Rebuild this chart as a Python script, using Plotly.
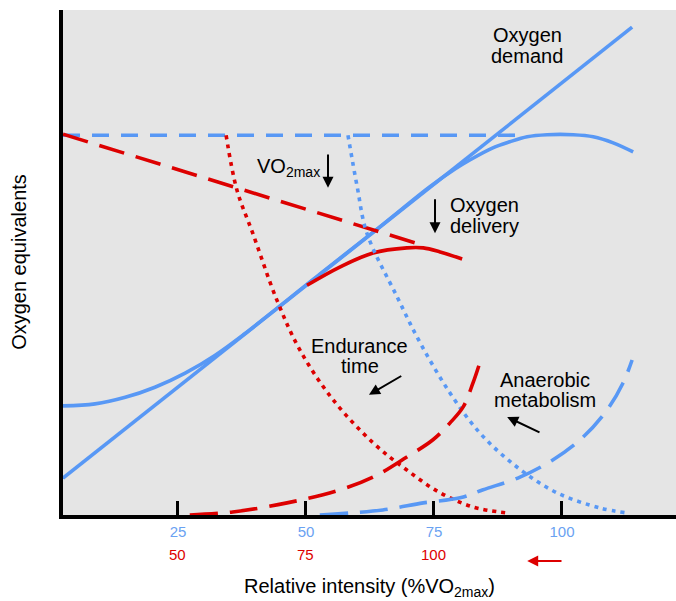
import plotly.graph_objects as go

# ---- data (x: relative intensity, %VO2max; y: oxygen equivalents, arbitrary units) ----
demand_x = [2.54, 113.7]
demand_y = [7.3, 96.6]

delivery_x = [2.54, 8.8, 14.7, 20.5, 26.4, 32.2, 37.9, 52.7, 64.5, 74.2, 79.1, 82.0, 86.5,
              89.8, 93.2, 97.1, 102.2, 106.1, 110.0, 113.9]
delivery_y = [21.6, 22.0, 23.3, 25.3, 28.1, 31.6, 35.8, 47.7, 57.1, 65.0, 68.5, 70.3, 72.7,
              73.9, 74.9, 75.3, 75.3, 74.9, 73.7, 71.9]

vo2max_x = [2.54, 93.0]
vo2max_y = [75.2, 75.2]

reduced_vo2max_x = [2.54, 73.2]
reduced_vo2max_y = [75.4, 53.3]

reduced_delivery_x = [50.2, 56.6, 63.1, 69.7, 72.9, 76.2, 80.5]
reduced_delivery_y = [45.5, 49.1, 51.9, 52.9, 52.9, 52.1, 50.7]

endurance_red_x = [34.4, 36.5, 39.6, 44.3, 48.8, 55.3, 63.1, 69.7, 76.2, 82.6, 89.3]
endurance_red_y = [75.2, 64.4, 55.8, 42.6, 32.7, 22.8, 14.3, 8.9, 4.4, 1.6, 0.4]

endurance_blue_x = [58.2, 60.0, 61.9, 67.8, 72.3, 78.1, 84.0, 91.2, 99.0, 107.4, 112.7]
endurance_blue_y = [75.2, 65.0, 55.8, 43.2, 34.1, 24.2, 16.2, 9.5, 4.4, 1.4, 0.4]

anaerobic_red_x = [27.3, 35.7, 46.3, 56.1, 63.1, 69.7, 74.8, 78.1, 80.7, 82.6, 84.0]
anaerobic_red_y = [0.0, 0.6, 2.4, 4.8, 7.5, 11.5, 14.9, 18.2, 21.4, 26.1, 30.3]

anaerobic_blue_x = [52.7, 65.0, 72.9, 80.1, 84.6, 91.8, 98.2, 104.1, 108.8, 111.9, 113.7]
anaerobic_blue_y = [0.0, 1.0, 2.4, 3.4, 5.0, 7.5, 10.9, 15.4, 20.8, 26.1, 30.7]

tick_values = [25, 50, 75, 100]
tick_labels_blue = ["25", "50", "75", "100"]
tick_labels_red = ["50", "75", "100"]

BLUE = "#5898f5"
BLUE_TXT = "#6aa2f2"
RED = "#dd0000"
FONT = "Liberation Sans, Arial, Helvetica, sans-serif"

fig = go.Figure()


def add_line(x, y, color, dash="solid", width=3.6, spline=True):
    fig.add_trace(go.Scatter(
        x=x, y=y, mode="lines", hoverinfo="skip", showlegend=False,
        line=dict(color=color, width=width, dash=dash,
                  shape="spline" if spline else "linear", smoothing=1.0),
    ))


add_line(demand_x, demand_y, BLUE, spline=False)
add_line(delivery_x, delivery_y, BLUE)
add_line(vo2max_x, vo2max_y, BLUE, dash="17px,12px", spline=False)
add_line(reduced_vo2max_x, reduced_vo2max_y, RED, dash="26px,12px", spline=False)
add_line(reduced_delivery_x, reduced_delivery_y, RED)
add_line(endurance_red_x, endurance_red_y, RED, dash="4px,5px")
add_line(endurance_blue_x, endurance_blue_y, BLUE, dash="4px,5px")
add_line(anaerobic_red_x, anaerobic_red_y, RED, dash="28px,12px")
add_line(anaerobic_blue_x, anaerobic_blue_y, BLUE, dash="28px,12px")

annotations = []


def label(text, x, y, xanchor="center", size=20, color="black", xref="x", yref="y", **kw):
    annotations.append(dict(text=text, x=x, y=y, xref=xref, yref=yref, xanchor=xanchor,
                            yanchor="middle", showarrow=False,
                            font=dict(family=FONT, size=size, color=color), **kw))


def arrow(x0, y0, x1, y1, color="black", width=2, yref="y"):
    annotations.append(dict(text="", x=x1, y=y1, ax=x0, ay=y0, xref="x", yref=yref,
                            axref="x", ayref=yref, showarrow=True, arrowhead=2,
                            arrowsize=1.1, arrowwidth=width, arrowcolor=color))


label("Oxygen", 93.2, 95.0)
label("demand", 93.2, 90.9)
label("VO<sub>2max</sub>", 40.1, 68.8, xanchor="left")
arrow(54.3, 71.7, 54.3, 64.8)
label("Oxygen", 77.7, 61.4, xanchor="left")
label("delivery", 77.7, 57.2, xanchor="left")
arrow(75.2, 62.8, 75.2, 55.8)
label("Endurance", 60.5, 33.5)
label("time", 60.5, 29.5)
arrow(68.9, 27.7, 62.3, 23.8)
label("Anaerobic", 96.7, 26.7)
label("metabolism", 96.7, 22.8)
arrow(95.9, 16.2, 89.3, 19.4)

# second row of x tick labels (shifted scale) and its direction arrow
for v, t in zip(tick_values, tick_labels_red):
    label(t, v, -0.078, size=15, color=RED, yref="y domain")
arrow(100.2, -0.091, 93.2, -0.091, color=RED, width=2, yref="y domain")

# axis titles
label("Relative intensity (%VO<sub>2max</sub>)", 0.5, -0.144, xref="paper", yref="paper")
label("Oxygen equivalents", -0.072, 0.501, xref="paper", yref="paper", textangle=-90)

fig.update_layout(
    width=676, height=601,
    margin=dict(l=63, r=0, t=10, b=86),
    paper_bgcolor="white", plot_bgcolor="#e5e5e5",
    font=dict(family=FONT, size=15, color="black"),
    annotations=annotations,
    xaxis=dict(range=[2.54, 122.27], showgrid=False, zeroline=False,
               showline=True, linewidth=4, linecolor="black",
               ticks="inside", ticklen=14, tickwidth=3, tickcolor="black",
               tickvals=tick_values, ticktext=tick_labels_blue,
               tickfont=dict(family=FONT, size=15, color=BLUE_TXT)),
    yaxis=dict(range=[0, 100], showgrid=False, zeroline=False,
               showline=True, linewidth=4, linecolor="black",
               showticklabels=False, ticks=""),
)

fig.write_html("out.html")
